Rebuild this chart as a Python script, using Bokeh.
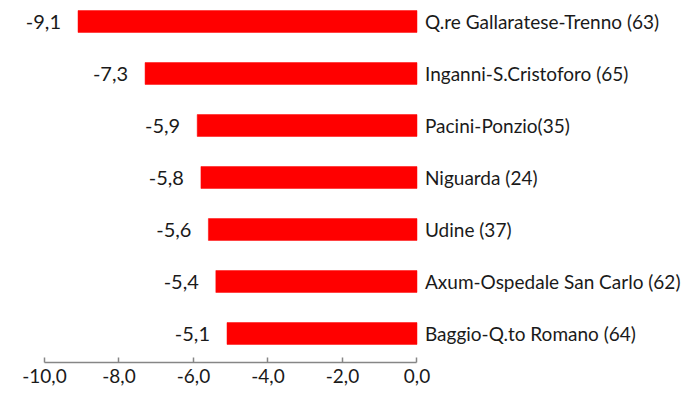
from bokeh.plotting import figure
from bokeh.models import ColumnDataSource, Range1d, LinearAxis, FixedTicker, LabelSet
from bokeh.core.properties import value
from bokeh.embed import file_html
from bokeh.resources import INLINE

# ---- data (top to bottom) ----
categories = [
    "Q.re Gallaratese-Trenno (63)",
    "Inganni-S.Cristoforo (65)",
    "Pacini-Ponzio(35)",
    "Niguarda (24)",
    "Udine (37)",
    "Axum-Ospedale San Carlo (62)",
    "Baggio-Q.to Romano (64)",
]
values = [-9.1, -7.3, -5.9, -5.8, -5.6, -5.4, -5.1]
x_ticks = [-10, -8, -6, -4, -2, 0]
x_tick_labels = ["-10,0", "-8,0", "-6,0", "-4,0", "-2,0", "0,0"]

FONT = "Lato"
n = len(categories)
ypos = [n - 1 - i for i in range(n)]
value_labels = [f"{v:.1f}".replace(".", ",") for v in values]
zeros = [0] * n

source = ColumnDataSource(dict(y=ypos, v=values, cat=categories,
                               lab=value_labels, zero=zeros))

p = figure(
    width=688, height=394,
    x_range=Range1d(-11.181, 7.289), y_range=Range1d(-1.173, 6.404),
    output_backend="svg", toolbar_location=None,
    x_axis_location=None, y_axis_location=None,
    min_border_left=0, min_border_right=0, min_border_top=0, min_border_bottom=0,
)
p.outline_line_color = None
p.xgrid.visible = False
p.ygrid.visible = False
p.background_fill_color = "white"
p.border_fill_color = "white"

p.hbar(y="y", left=0, right="v", height=0.42, source=source,
       fill_color="#FF0000", line_color="#FF0000", line_width=0.5)

# value labels at the bar ends
labels = LabelSet(x="v", y="y", text="lab", source=source, x_offset=-17,
                  text_align="right", text_baseline="middle",
                  text_font=value(FONT), text_font_size=value("20px"),
                  text_color="#1a1a1a")
p.add_layout(labels)

# category labels right of the zero line
cat_labels = LabelSet(x="zero", y="y", text="cat", source=source, x_offset=8,
                      text_align="left", text_baseline="middle",
                      text_font=value(FONT), text_font_size=value("19px"),
                      text_color="#1a1a1a")
p.add_layout(cat_labels)

# bottom axis (drawn at a fixed data location so it takes no border space)
xaxis = LinearAxis(ticker=FixedTicker(ticks=x_ticks), bounds=(-10, 0),
                   fixed_location=-0.558)
xaxis.major_label_overrides = {t: l for t, l in zip(x_ticks, x_tick_labels)}
xaxis.axis_line_color = "#868686"
xaxis.axis_line_width = 1.5
xaxis.major_tick_line_color = "#868686"
xaxis.major_tick_line_width = 1.5
xaxis.major_tick_in = 5
xaxis.major_tick_out = 0
xaxis.minor_tick_line_color = None
xaxis.major_label_standoff = 6
xaxis.major_label_text_font = FONT
xaxis.major_label_text_font_size = "19px"
xaxis.major_label_text_color = "#1a1a1a"
p.add_layout(xaxis, "below")

open("out.html", "w").write(file_html(p, INLINE))
